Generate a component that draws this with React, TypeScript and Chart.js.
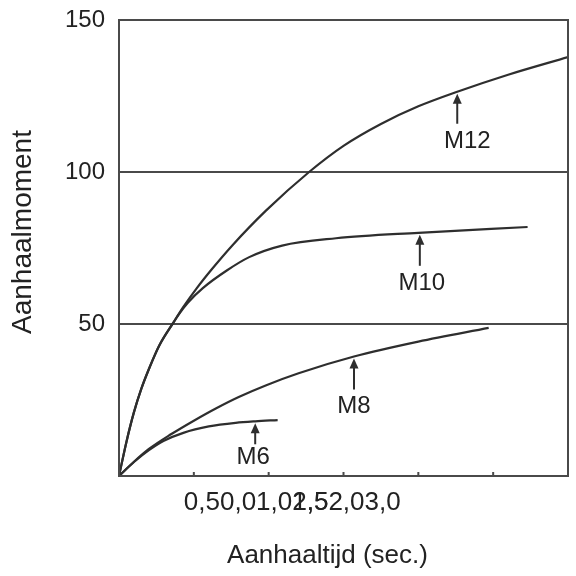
import React, { useEffect, useRef } from "react";
import { Chart, registerables } from "chart.js";

Chart.register(...registerables);

// curves (x = seconds, y = moment)
const m12X = [0, 0.05, 0.1, 0.15, 0.2, 0.27, 0.36, 0.43, 0.52, 0.62, 0.76, 0.98, 1.27, 1.5, 1.75, 2.0, 2.26, 2.6, 3.0];
const m12Y = [0, 11.3, 21, 28.8, 35.2, 43, 50.2, 55.6, 61.8, 68, 76, 87.2, 100, 108.6, 115.8, 121.6, 126.4, 132, 137.8];

const m10X = [0, 0.05, 0.1, 0.15, 0.2, 0.27, 0.36, 0.4, 0.46, 0.56, 0.72, 0.87, 1.09, 1.45, 2.0, 2.73];
const m10Y = [0, 11.3, 21, 28.8, 35.2, 43, 50.2, 53.2, 57, 61.8, 67.6, 72, 75.8, 78.2, 80, 81.9];

const m8X = [0, 0.1, 0.2, 0.35, 0.5, 0.65, 0.8, 0.98, 1.2, 1.57, 2.0, 2.47];
const m8Y = [0, 4.7, 8.9, 13.8, 18.2, 22.3, 26, 29.8, 33.8, 39.3, 44.2, 48.7];

const m6X = [0, 0.1, 0.2, 0.3, 0.43, 0.6, 0.78, 0.91, 1.06];
const m6Y = [0, 4.6, 8.5, 11.6, 14.2, 16.3, 17.5, 18, 18.4];

const seriesNames = ["M12", "M10", "M8", "M6"];
const calloutX = [2.26, 2.01, 1.57, 0.91];
const calloutY = [126.4, 80, 39.3, 18];

const yTicks = [50, 100, 150];
const xTickMarks = [0.5, 1, 1.5, 2, 2.5];
const xTickLabels = ["0,5", "0,0", "1,0", "1,5", "2,5", "2,0", "3,0"];
const xTickSlots = [0, 1, 2, 3, 3, 4, 5];

const xTitle = "Aanhaaltijd (sec.)";
const yTitle = "Aanhaalmoment";

// layout of the arrow callouts (pixels)
const calloutLayout = [
  { shaft: 30, dx: 10, dy: 48 },
  { shaft: 31, dx: 2, dy: 49 },
  { shaft: 31, dx: 0, dy: 48 },
  { shaft: 21, dx: -2, dy: 34 },
];

const LINE = "#2e2e2e";
const FRAME = "#4a4a4a";
const TEXT = "#222";
const FONT = "'Liberation Sans', Arial, sans-serif";

const toPoints = (xs: number[], ys: number[]) => xs.map((x, i) => ({ x, y: ys[i] }));

const decorations = {
  id: "decorations",
  afterDatasetsDraw(chart: any) {
    const { ctx, chartArea: a, scales } = chart;
    const x = scales.x;
    const y = scales.y;
    ctx.save();

    // frame
    ctx.strokeStyle = FRAME;
    ctx.lineWidth = 2;
    ctx.strokeRect(a.left, a.top, a.right - a.left, a.bottom - a.top);

    // inward tick marks on the time axis
    ctx.beginPath();
    xTickMarks.forEach((v) => {
      const px = x.getPixelForValue(v);
      ctx.moveTo(px, a.bottom);
      ctx.lineTo(px, a.bottom - 4);
    });
    ctx.stroke();

    // callouts
    ctx.strokeStyle = LINE;
    ctx.font = `24px ${FONT}`;
    ctx.textAlign = "center";
    ctx.textBaseline = "middle";
    seriesNames.forEach((name, i) => {
      const px = x.getPixelForValue(calloutX[i]);
      const py = y.getPixelForValue(calloutY[i]) + 2;
      const l = calloutLayout[i];
      ctx.fillStyle = LINE;
      ctx.beginPath();
      ctx.moveTo(px, py + 6);
      ctx.lineTo(px, py + l.shaft);
      ctx.stroke();
      ctx.beginPath();
      ctx.moveTo(px, py);
      ctx.lineTo(px - 4.5, py + 10);
      ctx.lineTo(px + 4.5, py + 10);
      ctx.closePath();
      ctx.fill();
      ctx.fillStyle = TEXT;
      ctx.fillText(name, px + l.dx, py + l.dy);
    });

    // time axis labels, drawn run-on as in the original
    ctx.fillStyle = TEXT;
    ctx.font = `26px ${FONT}`;
    ctx.textAlign = "left";
    let left = x.getPixelForValue(0.5) - 10;
    const slotLeft: number[] = [];
    xTickLabels.forEach((lbl, i) => {
      const s = xTickSlots[i];
      if (slotLeft[s] === undefined) {
        slotLeft[s] = left;
        left += ctx.measureText(lbl).width;
      }
      ctx.fillText(lbl, slotLeft[s], a.bottom + 27);
    });

    // axis titles
    ctx.textAlign = "center";
    ctx.fillText(xTitle, (a.left + a.right) / 2 - 16, chart.height - 20);
    ctx.save();
    ctx.translate(23, (a.top + a.bottom) / 2 - 16);
    ctx.rotate(-Math.PI / 2);
    ctx.font = `28px ${FONT}`;
    ctx.fillText(yTitle, 0, 0);
    ctx.restore();

    ctx.restore();
  },
};

export default function App() {
  const canvasRef = useRef<HTMLCanvasElement | null>(null);

  useEffect(() => {
    if (!canvasRef.current) return;
    const series = [
      toPoints(m12X, m12Y),
      toPoints(m10X, m10Y),
      toPoints(m8X, m8Y),
      toPoints(m6X, m6Y),
    ];
    const chart = new Chart(canvasRef.current, {
      type: "line",
      data: {
        datasets: series.map((data, i) => ({
          label: seriesNames[i],
          data,
          borderColor: LINE,
          borderWidth: 2.2,
          pointRadius: 0,
          fill: false,
          tension: 0.4,
          cubicInterpolationMode: "monotone" as const,
        })),
      },
      options: {
        animation: false,
        responsive: false,
        maintainAspectRatio: false,
        layout: { padding: { top: 20, right: 8, left: 0, bottom: 0 } },
        plugins: { legend: { display: false }, tooltip: { enabled: false } },
        scales: {
          x: {
            type: "linear",
            min: 0,
            max: 3,
            ticks: { display: false },
            grid: { display: false },
            border: { display: false },
            afterFit: (s: any) => {
              s.height = 100;
              s.paddingLeft = 0;
              s.paddingRight = 0;
            },
          },
          y: {
            min: 0,
            max: 150,
            ticks: {
              stepSize: 50,
              padding: 14,
              color: TEXT,
              font: { family: FONT, size: 24 },
              callback: (v: any) => (yTicks.includes(Number(v)) ? String(v) : ""),
            },
            grid: { color: FRAME, lineWidth: 2, drawTicks: false },
            border: { display: false },
            afterFit: (s: any) => {
              s.width = 119;
              s.paddingTop = 0;
              s.paddingBottom = 0;
            },
          },
        },
      },
      plugins: [decorations],
    });
    return () => chart.destroy();
  }, []);

  return (
    <div style={{ position: "absolute", left: 0, top: 0, width: 576, height: 576, background: "#fff" }}>
      <canvas ref={canvasRef} width={576} height={576} />
    </div>
  );
}
